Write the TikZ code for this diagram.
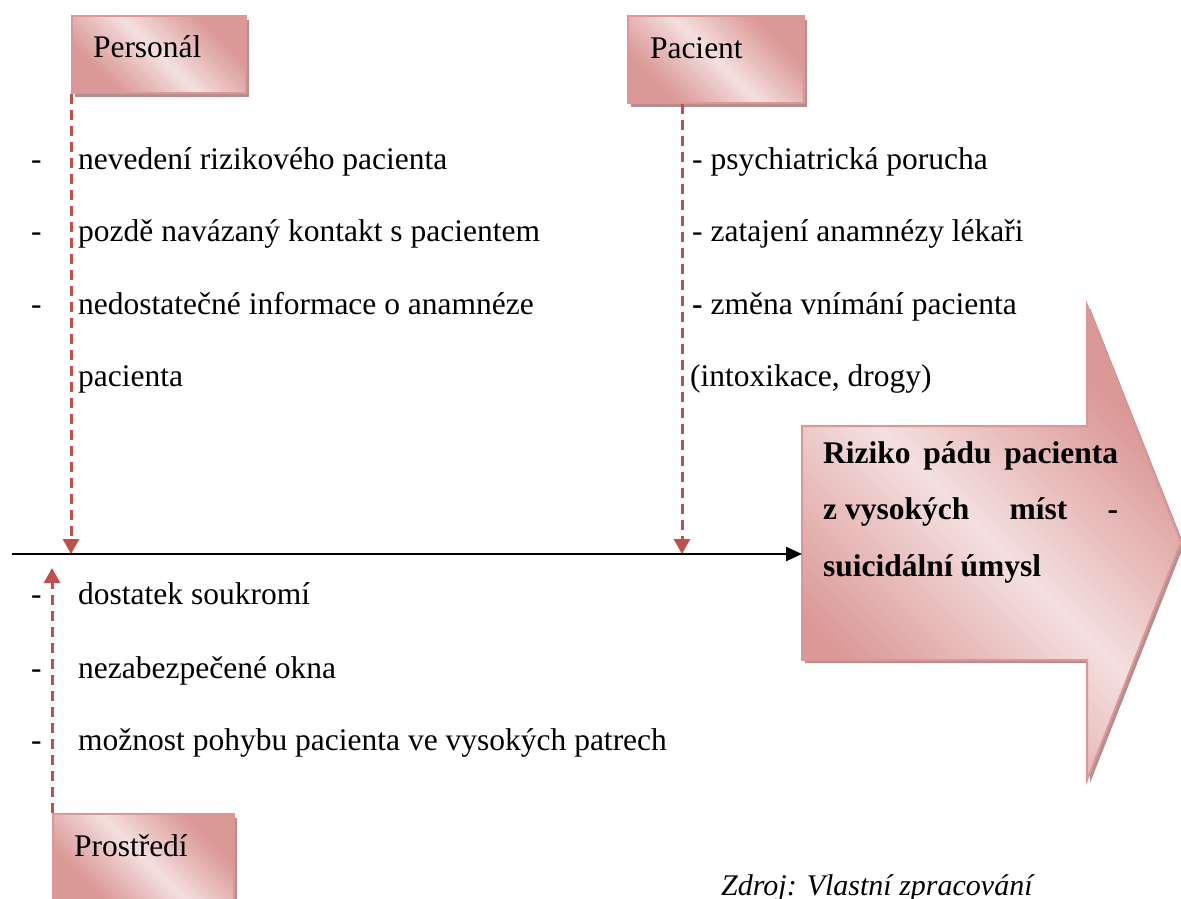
\documentclass[tikz,border=0pt]{standalone}
\usepackage{fontspec}
\setmainfont{Liberation Serif}
\usetikzlibrary{arrows.meta,shadows}

\definecolor{pinkdark}{RGB}{218,152,150}
\definecolor{pinkmid}{RGB}{232,190,189}
\definecolor{pinklight}{RGB}{244,224,223}
\definecolor{boxborder}{RGB}{222,150,150}
\definecolor{shadowgray}{RGB}{178,144,144}
\definecolor{dashred}{RGB}{192,80,77}

% diagonal pink band: dark ends, light middle
\pgfdeclarehorizontalshading{pinkband}{100bp}{%
  color(0bp)=(pinkdark); color(28bp)=(pinkdark); color(40bp)=(pinkmid);
  color(50bp)=(pinklight); color(60bp)=(pinkmid); color(72bp)=(pinkdark);
  color(100bp)=(pinkdark)}

\begin{document}
\begin{tikzpicture}[x=1pt,y=-1pt,
  txt/.style={font=\fontsize{31.5pt}{36pt}\selectfont, inner sep=0pt, anchor=base west},
  boldtxt/.style={txt, font=\fontsize{31.5pt}{36pt}\selectfont\bfseries},
  pinkfill/.style={shade, shading=pinkband, shading angle=45},
  labelbox/.style={pinkfill, draw=boxborder, line width=2pt, align=left, anchor=north west,
    inner ysep=0pt, font=\fontsize{31.5pt}{36pt}\selectfont,
    general shadow={fill=shadowgray, shadow xshift=3pt, shadow yshift=-4pt}},
  cause/.style={draw=dashred, line width=3pt, dash pattern=on 10pt off 6pt,
    -{Triangle[length=15pt,width=16pt]}},
  axisline/.style={draw=black, line width=2.5pt, -{Triangle[length=16pt,width=14pt]}}]

\useasboundingbox (0,0) rectangle (1181,898);

% result arrow: shadow, then shaded body
\fill[shadowgray, shift={(3,3)}]
  (802,426) -- (1087,426) -- (1087,305) -- (1181,542) -- (1087,780) -- (1087,660) -- (802,660) -- cycle;
\path[pinkfill, draw=boxborder, line width=2pt]
  (802,426) -- (1087,426) -- (1087,305) -- (1181,542) -- (1087,780) -- (1087,660) -- (802,660) -- cycle;

\node[boldtxt] (r1) at (823,463) {\makebox[295pt][s]{Riziko\hfill pádu\hfill pacienta}};
\node[boldtxt] (r2) at (823,519) {\makebox[295pt][s]{z vysokých\hfill míst\hfill -}};
\node[boldtxt] (r3) at (823,576) {suicidální úmysl};

% category boxes
\node[labelbox, text width=132pt, inner xsep=21pt, minimum height=77pt,
      text height=22pt, text depth=17pt] (personal) at (71,15) {Personál};
\node[labelbox, text width=132pt, inner xsep=22pt, minimum height=87pt,
      text height=20pt, text depth=23pt] (pacient) at (627,15) {Pacient};
\node[labelbox, text width=139pt, inner xsep=21pt, minimum height=87pt,
      text height=20pt, text depth=23pt] (prostredi) at (52,813) {Prostředí};

% main axis
\coordinate (axisstart) at (12,554);
\coordinate (axisend) at (802,554);
\draw[axisline] (axisstart) -- (axisend);

% cause arrows
\coordinate (pacfoot) at ([xshift=55pt]pacient.south west);
\coordinate (uptip) at (0,568);
\draw[cause] (personal.south west) -- (personal.south west |- axisstart);
\draw[cause] (pacfoot) -- (pacfoot |- axisstart);
\draw[cause] (prostredi.north west) -- (prostredi.north west |- uptip);

% staff factors
\node[txt] (p1) at (31,169) {\makebox[47pt][l]{-}nevedení rizikového pacienta};
\node[txt] (p2) at (31,241.5) {\makebox[47pt][l]{-}pozdě navázaný kontakt s pacientem};
\node[txt] (p3) at (31,314) {\makebox[47pt][l]{-}nedostatečné informace o anamnéze};
\node[txt] (p4) at (78,386.5) {pacienta};

% patient factors
\node[txt] (q1) at (692,169) {- psychiatrická porucha};
\node[txt] (q2) at (692,241.5) {- zatajení anamnézy lékaři};
\node[txt] (q3) at (692,314) {\textbf{-} změna vnímání pacienta};
\node[txt] (q4) at (690,386.5) {(intoxikace, drogy)};

% environment factors
\node[txt] (e1) at (31,604) {\makebox[47pt][l]{-}dostatek soukromí};
\node[txt] (e2) at (31,678) {\makebox[47pt][l]{-}nezabezpečené okna};
\node[txt] (e3) at (31,750) {\makebox[47pt][l]{-}možnost pohybu pacienta ve vysokých patrech};

% source
\node[txt, font=\fontsize{30pt}{36pt}\selectfont\itshape] (src) at (721,895) {Zdroj: Vlastní zpracování};
\end{tikzpicture}
\end{document}
